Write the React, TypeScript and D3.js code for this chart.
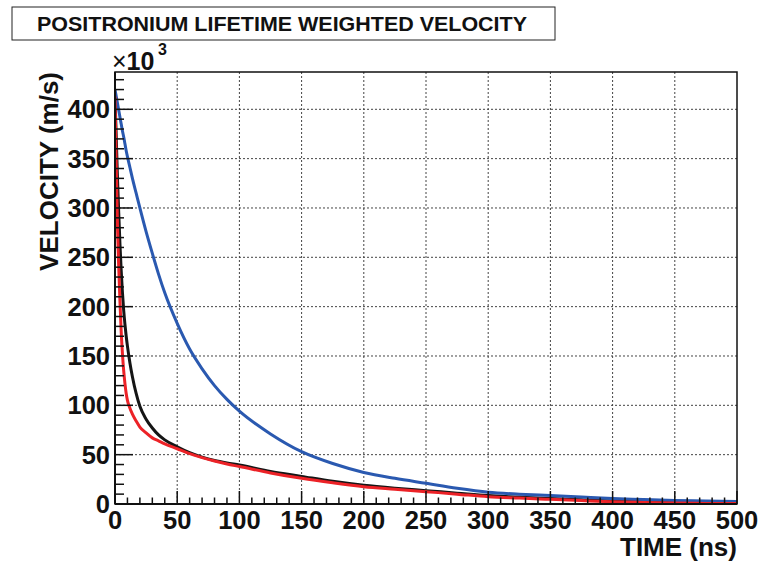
import React from 'react';
import * as d3 from 'd3';

// time grid (ns), denser near zero where curves drop fast
const timeNs = [0, 1, 2, 3, 4, 5, 6, 7, 8, 9, 10, 12, 14, 17, 20, 25, 30, 35, 40, 50, 60, 70, 80, 90, 100,
    125, 150, 175, 200, 225, 250, 275, 300, 325, 350, 375, 400, 425, 450, 475, 500];

// velocities in units of 10^3 m/s
const blueVel = [420, 413, 406, 399, 392, 385, 378, 372, 365, 358, 352, 341, 330, 315, 300, 276, 254, 233, 214, 183,
    157, 137, 120, 106, 94, 71, 53, 41, 32, 26, 21, 16, 12, 10, 8.5, 7, 5.5, 4.5, 3.5, 3, 2.5];
const blackVel = [413, 372, 330, 295, 263, 236, 214, 196, 182, 170, 160, 143, 129, 112, 99, 86, 77, 70, 65, 58,
    52, 47.5, 44, 41.5, 39.5, 33, 28, 23, 19, 16, 13.5, 11, 8.5, 7, 5.5, 4.2, 3, 2.2, 1.5, 1.2, 1];
const redVel = [413, 345, 282, 240, 205, 174, 152, 135, 122, 112, 105, 97, 91, 84, 78, 72, 67, 64, 61, 56,
    51, 47, 43.5, 40.5, 38, 31.5, 26, 21.5, 17.6, 15, 12.5, 10, 7.4, 6, 4.7, 3.5, 2.3, 1.5, 0.9, 0.6, 0.5];

const xTicks = [0, 50, 100, 150, 200, 250, 300, 350, 400, 450, 500];
const yTicks = [0, 50, 100, 150, 200, 250, 300, 350, 400];

const titleText = 'POSITRONIUM LIFETIME WEIGHTED VELOCITY';
const xTitle = 'TIME (ns)';
const yTitle = 'VELOCITY (m/s)';

const W = 761, H = 565;
const frame = { left: 115, right: 737, top: 72, bottom: 504 };
const font = '"Liberation Sans", Arial, Helvetica, sans-serif';

const App: React.FC = () => {
    const x = d3.scaleLinear().domain([0, 500]).range([frame.left, frame.right]);
    const y = d3.scaleLinear().domain([0, 437.8]).range([frame.bottom, frame.top]);

    const line = (vals: number[]) =>
        d3.line<number>()
            .x((_, i) => x(timeNs[i]))
            .y(d => y(d))
            .curve(d3.curveMonotoneX)(vals) ?? '';

    const xMinor = d3.range(0, 501, 10).filter(v => v % 50 !== 0);
    const yMinor = d3.range(0, 431, 10).filter(v => v % 50 !== 0);

    const series = [
        { vals: blackVel, color: '#151515' },
        { vals: blueVel, color: '#2a59b0' },
        { vals: redVel, color: '#ec2227' },
    ];

    return (
        <svg width={W} height={H} style={{ position: 'absolute', left: 0, top: 0, background: '#fff' }}
            fontFamily={font} fontWeight="bold">
            <defs>
                <clipPath id="frameClip">
                    <rect x={frame.left} y={frame.top} width={frame.right - frame.left} height={frame.bottom - frame.top} />
                </clipPath>
            </defs>

            {/* grid */}
            {xTicks.slice(1, -1).map(t => (
                <line key={'gx' + t} x1={x(t)} x2={x(t)} y1={frame.top} y2={frame.bottom}
                    stroke="#444" strokeWidth={1} strokeDasharray="2,2" />
            ))}
            {yTicks.slice(1).map(t => (
                <line key={'gy' + t} x1={frame.left} x2={frame.right} y1={y(t)} y2={y(t)}
                    stroke="#444" strokeWidth={1} strokeDasharray="2,2" />
            ))}

            {/* curves */}
            <g clipPath="url(#frameClip)">
                {series.map((s, i) => (
                    <path key={i} d={line(s.vals)} fill="none" stroke={s.color} strokeWidth={3}
                        strokeLinejoin="round" />
                ))}
            </g>

            {/* frame */}
            <rect x={frame.left} y={frame.top} width={frame.right - frame.left} height={frame.bottom - frame.top}
                fill="none" stroke="#111" strokeWidth={1.5} />
            <line x1={frame.left} x2={frame.right} y1={frame.bottom} y2={frame.bottom} stroke="#111" strokeWidth={2} />
            <line x1={frame.left} x2={frame.left} y1={frame.top} y2={frame.bottom} stroke="#111" strokeWidth={2} />

            {/* x ticks */}
            {xTicks.map(t => (
                <line key={'xt' + t} x1={x(t)} x2={x(t)} y1={frame.bottom} y2={frame.bottom - 13} stroke="#111" strokeWidth={1.5} />
            ))}
            {xMinor.map(t => (
                <line key={'xm' + t} x1={x(t)} x2={x(t)} y1={frame.bottom} y2={frame.bottom - 6.5} stroke="#111" strokeWidth={1.5} />
            ))}
            {/* y ticks */}
            {yTicks.map(t => (
                <line key={'yt' + t} x1={frame.left} x2={frame.left + 18} y1={y(t)} y2={y(t)} stroke="#111" strokeWidth={1.5} />
            ))}
            {yMinor.map(t => (
                <line key={'ym' + t} x1={frame.left} x2={frame.left + 9} y1={y(t)} y2={y(t)} stroke="#111" strokeWidth={1.5} />
            ))}

            {/* tick labels */}
            {xTicks.map(t => (
                <text key={'xl' + t} x={x(t)} y={frame.bottom + 25} textAnchor="middle" fontSize={25.5} fill="#111">{t}</text>
            ))}
            {yTicks.map(t => (
                <text key={'yl' + t} x={frame.left - 5} y={y(t) + 9} textAnchor="end" fontSize={25.5} fill="#111">{t}</text>
            ))}

            {/* exponent */}
            <text x={112} y={70} fontSize={25} fill="#111"><tspan fontWeight="normal">×</tspan>10</text>
            <text x={158} y={55} fontSize={16} fill="#111">3</text>

            {/* axis titles */}
            <text x={frame.right} y={556} textAnchor="end" fontSize={26} fill="#111">{xTitle}</text>
            <text transform={`translate(58,${frame.top}) rotate(-90)`} textAnchor="end" fontSize={26} fill="#111">{yTitle}</text>

            {/* title box */}
            <rect x={12} y={7} width={543} height={33} fill="#fff" stroke="#222" strokeWidth={1} />
            <text x={37} y={31} fontSize={19.5} fill="#111" textLength={490} lengthAdjust="spacingAndGlyphs">{titleText}</text>
        </svg>
    );
};

export default App;
